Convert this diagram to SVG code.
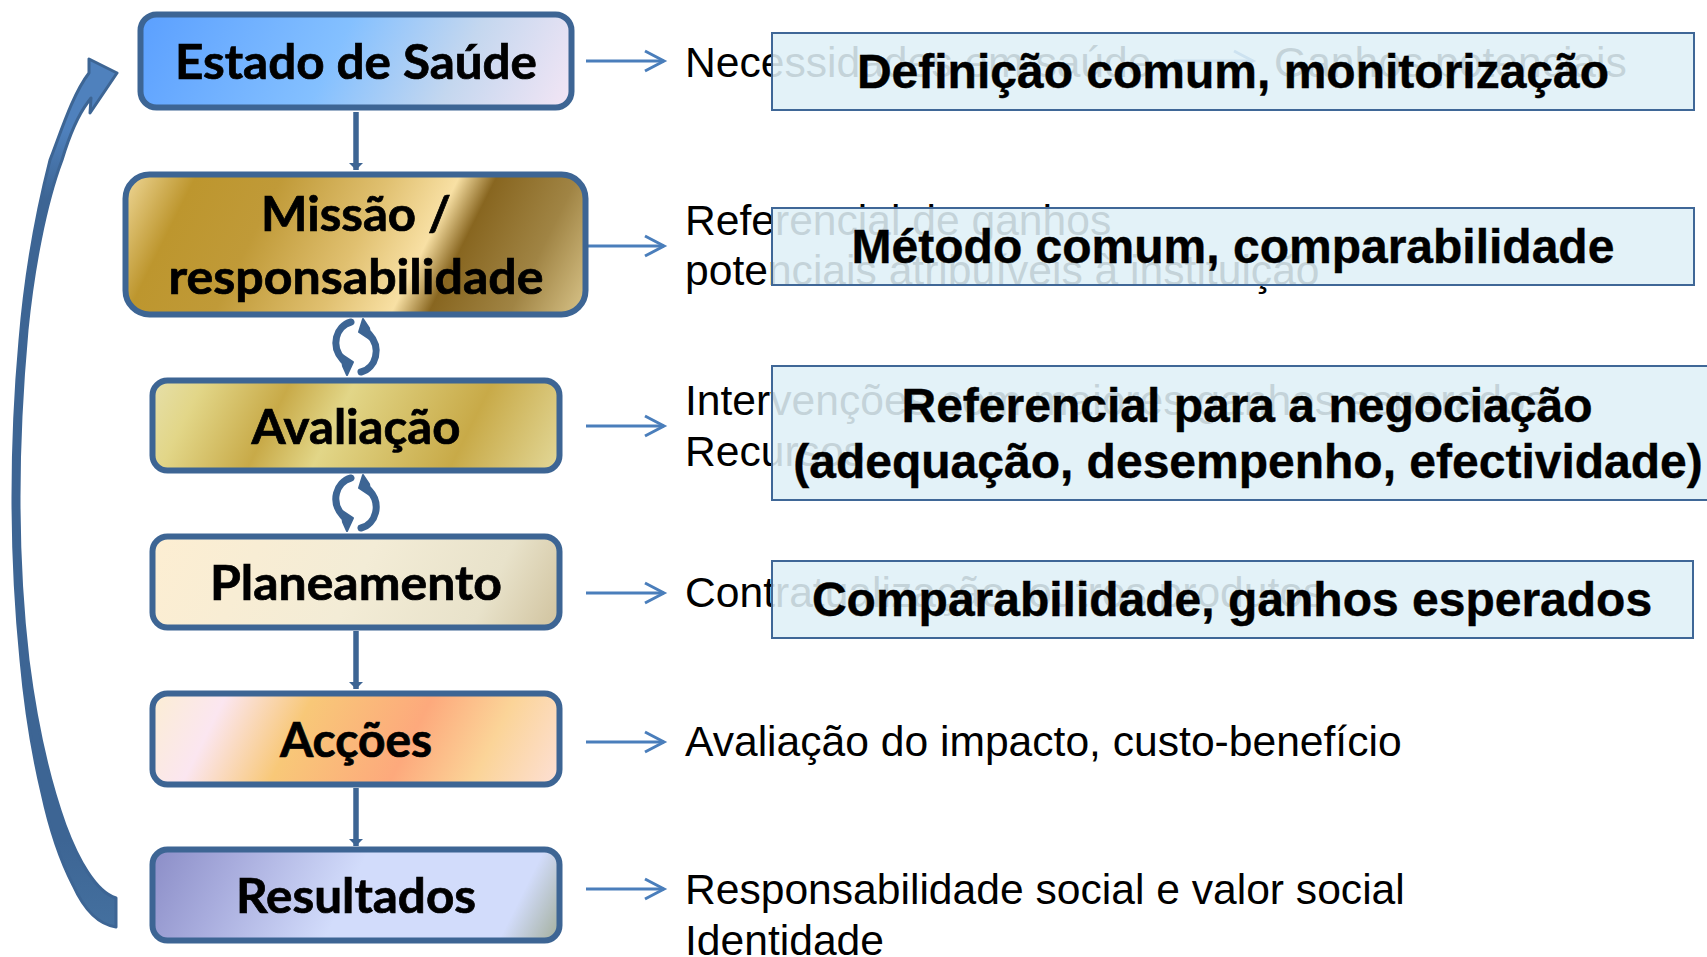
<svg xmlns="http://www.w3.org/2000/svg" xmlns:xlink="http://www.w3.org/1999/xlink" width="1707" height="957" viewBox="0 0 1707 957">
<style>
.node{stroke:#3d6594;stroke-width:6}
.nl{font-family:"Lato","Liberation Sans",sans-serif;font-weight:700;font-size:47px;fill:#000;stroke:#000;stroke-width:.7;text-anchor:middle}
.t{font-family:"Liberation Sans",Arial,sans-serif;font-size:42.6px;fill:#000}
.b{font-family:"Liberation Sans",Arial,sans-serif;font-weight:700;font-size:48px;fill:#000;stroke:#000;stroke-width:.4;text-anchor:middle}
.box{fill:#dff0f7;fill-opacity:.88;stroke:#3f6797;stroke-width:2}
.side{stroke:#4a7ebb;stroke-width:3;fill:none;marker-end:url(#open)}
.down{stroke:#3d6594;stroke-width:5.5;fill:none;marker-end:url(#solid)}
.arc{fill:none;stroke:#3d6594;stroke-width:7;stroke-linecap:round}
.tip{fill:#3d6594;stroke:#3d6594;stroke-width:2;stroke-linejoin:round}
</style>
<defs>
<marker id="open" markerUnits="userSpaceOnUse" markerWidth="26" markerHeight="28" viewBox="-22 -14 26 28" refX="0" refY="0" orient="auto"><path d="M-19,-10 L0,0 L-19,10" fill="none" stroke="#4a7ebb" stroke-width="3"/></marker>
<marker id="solid" markerUnits="userSpaceOnUse" markerWidth="18" markerHeight="18" viewBox="-9 -9 18 18" refX="0" refY="0" orient="auto"><path d="M-7,-7 L0,0 L-7,7 Z" fill="#3d6594"/></marker>
<linearGradient id="ret" gradientUnits="userSpaceOnUse" x1="0" y1="60" x2="0" y2="927"><stop offset="0" stop-color="#4f81bd"/><stop offset=".08" stop-color="#4f81bd"/><stop offset=".16" stop-color="#3d6594"/><stop offset=".9" stop-color="#3d6594"/><stop offset="1" stop-color="#44709f"/></linearGradient>
<linearGradient id="g1" gradientUnits="userSpaceOnUse" x1="138" y1="12" x2="526" y2="206"><stop offset="0" stop-color="#5a9fff"/><stop offset=".45" stop-color="#84c0ff"/><stop offset=".72" stop-color="#c4d7ef"/><stop offset="1" stop-color="#f5e6f5"/></linearGradient>
<linearGradient id="g2" gradientUnits="userSpaceOnUse" x1="123" y1="172" x2="553" y2="387"><stop offset="0" stop-color="#f2dc9e"/><stop offset=".14" stop-color="#bd962e"/><stop offset=".3" stop-color="#c09a38"/><stop offset=".5" stop-color="#e0c070"/><stop offset=".63" stop-color="#f8e0a4"/><stop offset=".7" stop-color="#886620"/><stop offset=".85" stop-color="#a08444"/><stop offset="1" stop-color="#dcc88e"/></linearGradient>
<linearGradient id="g3" gradientUnits="userSpaceOnUse" x1="150" y1="378" x2="518" y2="562"><stop offset="0" stop-color="#e6e0ac"/><stop offset=".12" stop-color="#e2d688"/><stop offset=".31" stop-color="#c8aa48"/><stop offset=".45" stop-color="#e2d688"/><stop offset=".75" stop-color="#c8aa48"/><stop offset="1" stop-color="#e4da9c"/></linearGradient>
<linearGradient id="g4" gradientUnits="userSpaceOnUse" x1="150" y1="534" x2="518" y2="718"><stop offset="0" stop-color="#fdeed2"/><stop offset=".5" stop-color="#f3ecd6"/><stop offset=".8" stop-color="#e8e2ca"/><stop offset="1" stop-color="#cfc19c"/></linearGradient>
<linearGradient id="g5" gradientUnits="userSpaceOnUse" x1="150" y1="691" x2="518" y2="875"><stop offset="0" stop-color="#fbeed2"/><stop offset=".17" stop-color="#fbe6f0"/><stop offset=".36" stop-color="#f8c878"/><stop offset=".62" stop-color="#fda97c"/><stop offset=".8" stop-color="#fbd498"/><stop offset="1" stop-color="#fde0d8"/></linearGradient>
<linearGradient id="g6" gradientUnits="userSpaceOnUse" x1="150" y1="847" x2="518" y2="1031"><stop offset="0" stop-color="#8a8cc6"/><stop offset=".2" stop-color="#a8acdd"/><stop offset=".48" stop-color="#d2dcfb"/><stop offset=".86" stop-color="#d2dcfb"/><stop offset="1" stop-color="#9fab94"/></linearGradient>
<g id="cycle">
<path class="arc" d="M351,322 C336,326 330,346 343,360"/>
<path class="tip" d="M341,354 L353,362 L347,375 L343,366 Z"/>
<path class="arc" d="M361,372 C376,368 382,348 369,334"/>
<path class="tip" d="M371,340 L359,332 L363,319 L369,328 Z"/>
</g>
</defs>

<g id="background-text">
<text class="t" x="685" y="77">Necessidades em saúde</text>
<text class="t" x="1274" y="77">Ganhos potenciais</text>
<text class="t" x="685" y="235">Referencial de ganhos</text>
<text class="t" x="685" y="285">potenciais atribuíveis à instituição</text>
<text class="t" x="685" y="415">Intervenções com maiores ganhos esperados</text>
<text class="t" x="685" y="466">Recursos</text>
<text class="t" x="685" y="607">Contratualização, outros produtos</text>
<text class="t" x="685" y="756">Avaliação do impacto, custo-benefício</text>
<text class="t" x="685" y="904">Responsabilidade social e valor social</text>
<text class="t" x="685" y="955">Identidade</text>
</g>

<g id="connectors">
<line class="side" x1="586" y1="61" x2="664" y2="61"/>
<line class="side" x1="1174" y1="61" x2="1253" y2="61"/>
<line class="side" x1="586" y1="246" x2="664" y2="246"/>
<line class="side" x1="586" y1="426" x2="664" y2="426"/>
<line class="side" x1="586" y1="593" x2="664" y2="593"/>
<line class="side" x1="586" y1="742" x2="664" y2="742"/>
<line class="side" x1="586" y1="889" x2="664" y2="889"/>
<line class="down" x1="356" y1="112" x2="356" y2="170"/>
<line class="down" x1="356" y1="631" x2="356" y2="689"/>
<line class="down" x1="356" y1="788" x2="356" y2="846"/>
<use id="cycle-1" xlink:href="#cycle"/>
<use id="cycle-2" xlink:href="#cycle" y="156"/>
<path id="return-arrow" d="M116,898 C96,892 78,860 65,825 C46,772 35,715 28,660 C21,600 19,550 19,497 C19,440 22,385 27,330 C33,270 45,205 62,160 C68,140 76,118 88,102 L91,98 L90,113 L117,73 L89,59 L89,73 C72,95 60,135 50,160 C36,215 25,280 20,340 C15,395 13,445 13,497 C13,555 16,610 21,660 C26,715 33,755 42,793 C50,830 60,860 73,885 C82,905 95,924 116,927 Z" fill="url(#ret)" stroke="#3d6594" stroke-width="3" stroke-linejoin="round"/>
</g>

<g id="node-estado"><rect class="node" x="140.500" y="14.500" width="431" height="93" rx="16" fill="url(#g1)"/><text class="nl" x="356" y="79" textLength="362" lengthAdjust="spacingAndGlyphs">Estado de Saúde</text></g>
<g id="node-missao"><rect class="node" x="125.500" y="174.500" width="460" height="140" rx="24" fill="url(#g2)"/><text class="nl" x="356" y="231" textLength="190" lengthAdjust="spacingAndGlyphs">Missão /</text><text class="nl" x="356" y="294" textLength="375" lengthAdjust="spacingAndGlyphs">responsabilidade</text></g>
<g id="node-avaliacao"><rect class="node" x="152.500" y="380.500" width="407" height="90" rx="15" fill="url(#g3)"/><text class="nl" x="356" y="444" textLength="209" lengthAdjust="spacingAndGlyphs">Avaliação</text></g>
<g id="node-planeamento"><rect class="node" x="152.500" y="536.500" width="407" height="91" rx="15" fill="url(#g4)"/><text class="nl" x="356" y="600" textLength="292" lengthAdjust="spacingAndGlyphs">Planeamento</text></g>
<g id="node-accoes"><rect class="node" x="152.500" y="693.500" width="407" height="91" rx="15" fill="url(#g5)"/><text class="nl" x="356" y="757" textLength="152" lengthAdjust="spacingAndGlyphs">Acções</text></g>
<g id="node-resultados"><rect class="node" x="152.500" y="849.500" width="407" height="91" rx="15" fill="url(#g6)"/><text class="nl" x="356" y="913" textLength="240" lengthAdjust="spacingAndGlyphs">Resultados</text></g>

<g id="note-1"><rect class="box" x="772" y="33" width="922" height="77"/><text class="b" x="1233" y="88">Definição comum, monitorização</text></g>
<g id="note-2"><rect class="box" x="772" y="208" width="922" height="77"/><text class="b" x="1233" y="263">Método comum, comparabilidade</text></g>
<g id="note-3"><rect class="box" x="772" y="366" width="940" height="134"/><text class="b" x="1247" y="422">Referencial para a negociação</text><text class="b" x="1248" y="478">(adequação, desempenho, efectividade)</text></g>
<g id="note-4"><rect class="box" x="772" y="561" width="921" height="77"/><text class="b" x="1232" y="616">Comparabilidade, ganhos esperados</text></g>
</svg>
